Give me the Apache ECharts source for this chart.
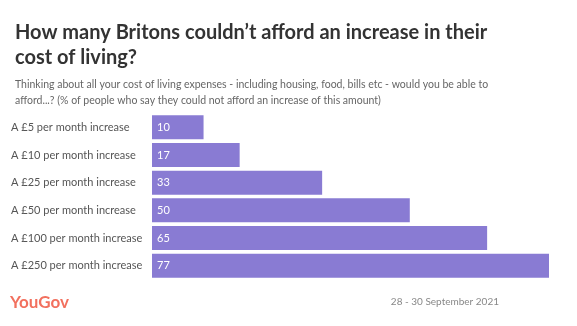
<!DOCTYPE html>
<html>
<head>
<meta charset="utf-8">
<script src="https://cdn.jsdelivr.net/npm/echarts@6/dist/echarts.min.js"></script>
<style>
  html, body { margin: 0; padding: 0; background: #fff; }
  #chart { width: 577px; height: 326px; }
</style>
</head>
<body>
<div id="chart"></div>
<script>
// Amounts asked about, smallest first
const categories = [
  'A £5 per month increase',
  'A £10 per month increase',
  'A £25 per month increase',
  'A £50 per month increase',
  'A £100 per month increase',
  'A £250 per month increase'
];
// % who could not afford each increase
const values = [10, 17, 33, 50, 65, 77];

const FONT = 'Lato, "Open Sans", sans-serif';
const chart = echarts.init(document.getElementById('chart'), null, { renderer: 'canvas' });

chart.setOption({
  backgroundColor: '#ffffff',
  animation: false,
  title: {
    text: 'How many Britons couldn\u2019t afford an increase in their\ncost of living?',
    left: 10,
    top: 15,
    textStyle: {
      fontFamily: FONT,
      fontSize: 20,
      fontWeight: 'bold',
      color: '#333333',
      lineHeight: 25
    },
    subtext: 'Thinking about all your cost of living expenses - including housing, food, bills etc - would you be able to\nafford...? (% of people who say they could not afford an increase of this amount)',
    subtextStyle: {
      fontFamily: FONT,
      fontSize: 10.5,
      fontWeight: 'normal',
      color: '#666666',
      lineHeight: 16
    },
    itemGap: 7
  },
  grid: {
    left: 152,
    right: 28,
    top: 113.5,
    height: 166,
    containLabel: false
  },
  xAxis: {
    type: 'value',
    min: 0,
    max: 77,
    show: false
  },
  yAxis: {
    type: 'category',
    data: categories,
    inverse: true,
    axisLine: { show: false },
    axisTick: { show: false },
    splitLine: { show: false },
    axisLabel: {
      align: 'left',
      margin: 141,
      fontFamily: FONT,
      fontSize: 11,
      color: '#555555'
    }
  },
  series: [{
    type: 'bar',
    data: values,
    barCategoryGap: '13%',
    itemStyle: { color: '#897BD3' },
    label: {
      show: true,
      position: 'insideLeft',
      distance: 5,
      fontFamily: FONT,
      fontSize: 11,
      color: '#ffffff'
    }
  }],
  graphic: [
    {
      type: 'text',
      left: 10,
      top: 294,
      style: {
        text: 'YouGov',
        fontFamily: FONT,
        fontSize: 17,
        fontWeight: 'bold',
        fill: '#F2705E'
      }
    },
    {
      type: 'text',
      right: 78,
      top: 297,
      style: {
        text: '28 - 30 September 2021',
        fontFamily: FONT,
        fontSize: 10,
        fill: '#888888'
      }
    }
  ]
});
</script>
</body>
</html>
